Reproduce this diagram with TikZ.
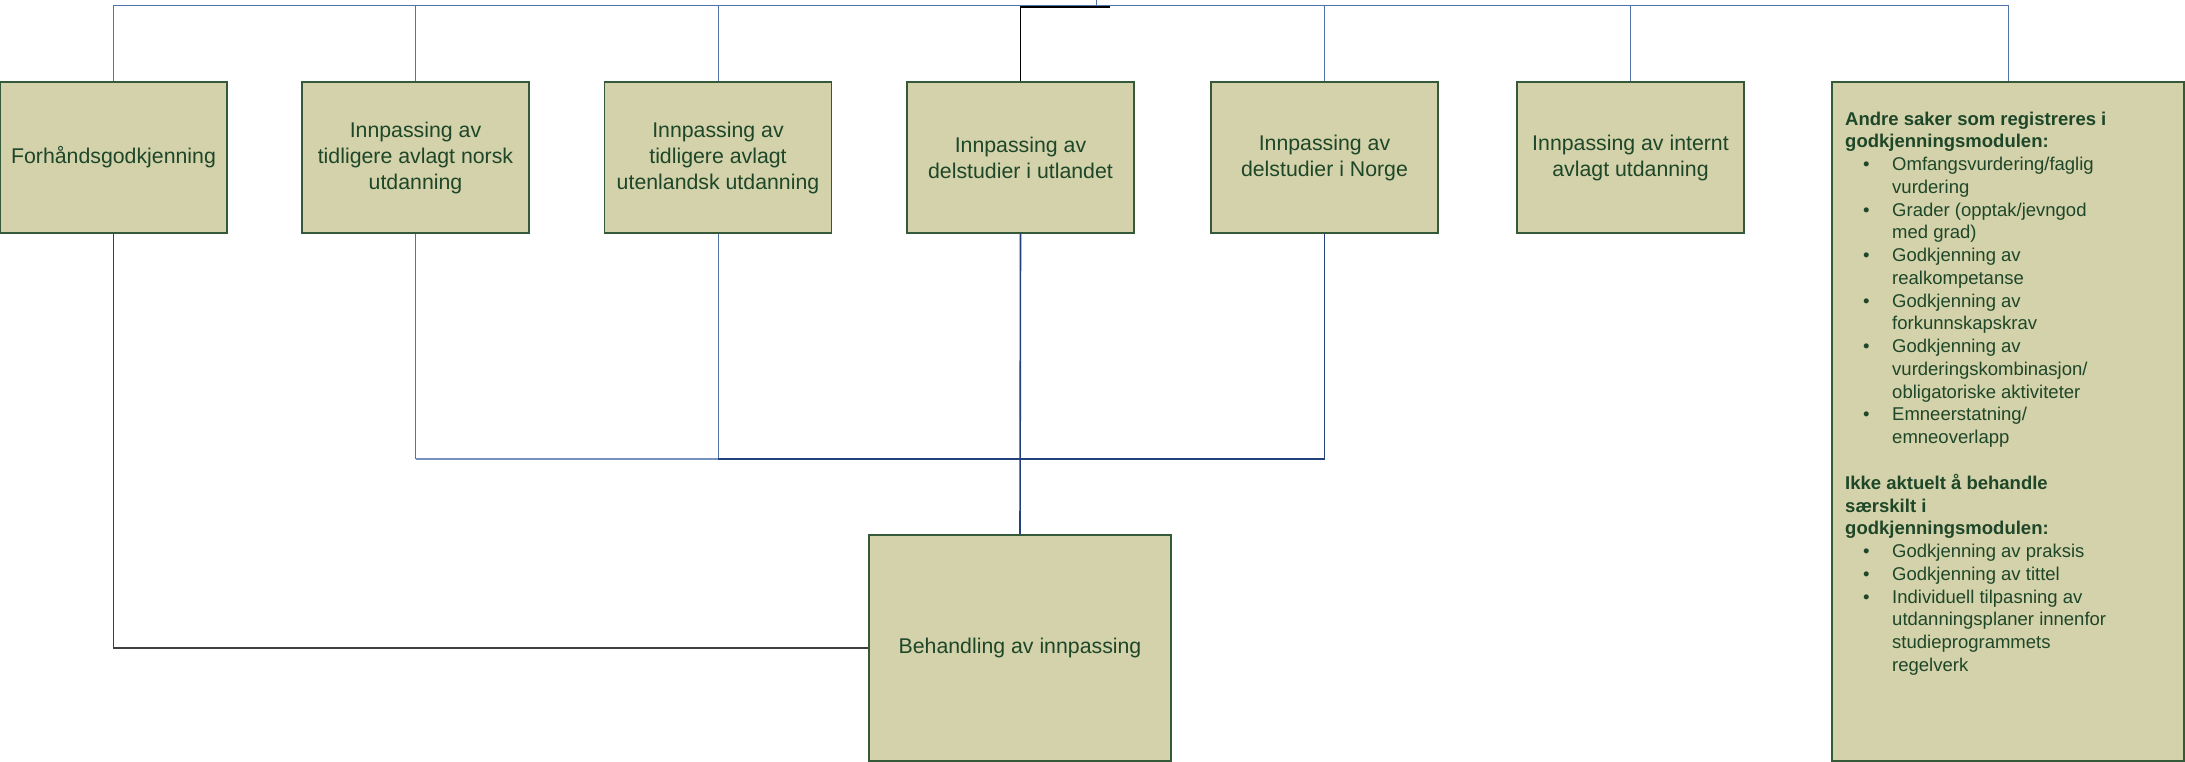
\documentclass[tikz,border=0pt]{standalone}
\usepackage{fontspec}
\setmainfont{Liberation Sans}
\definecolor{boxfill}{RGB}{211,210,170}
\definecolor{boxline}{RGB}{52,90,58}
\definecolor{txt}{RGB}{30,70,40}
\definecolor{blueline}{RGB}{80,115,170}
\definecolor{darkblue}{RGB}{35,65,125}
\definecolor{lightblue}{RGB}{120,145,190}
\newcommand\bul{\hspace*{18pt}\makebox[29pt][l]{\textbullet}}
\newcommand\ind{\hspace*{47pt}}
\begin{document}
\begin{tikzpicture}[x=1pt,y=-1pt,
  box/.style={draw=boxline, fill=boxfill, line width=1.5pt, inner sep=2pt,
    align=center, text=txt, font=\fontsize{21.3}{26}\selectfont,
    minimum width=227pt, minimum height=151pt},
  conn/.style={draw=blueline, line width=1pt},
  darkconn/.style={draw=darkblue, line width=1.6pt},
  lightconn/.style={draw=lightblue, line width=2pt},
  blackconn/.style={draw=black, line width=1.3pt},
  grayconn/.style={draw=black!75, line width=1.3pt}]
\useasboundingbox (0,0) rectangle (2185,762);
\coordinate (bus) at (0,6);
\coordinate (bus2) at (0,459);
\coordinate (stub) at (1096,0);
\coordinate (blk) at (1110,7);
% boxes
\node[box] (b1) at (113.5,157.5) {Forhåndsgodkjenning};
\node[box] (b2) at (415.5,157.5) {Innpassing av\\tidligere avlagt norsk\\utdanning};
\node[box] (b3) at (718,157.5) {Innpassing av\\tidligere avlagt\\utenlandsk utdanning};
\node[box] (b4) at (1020.5,157.5) {Innpassing av\\delstudier i utlandet};
\node[box] (b5) at (1324.5,157.5) {Innpassing av\\delstudier i Norge};
\node[box] (b6) at (1630.5,157.5) {Innpassing av internt\\avlagt utdanning};
\node[box, minimum width=352pt, minimum height=679pt] (b7) at (2008,421.5) {};
\node[box, minimum width=302pt, minimum height=226pt] (bot) at (1020,648) {Behandling av innpassing};
\node[anchor=north west, align=left, inner sep=0pt, text=txt,
  font=\fontsize{18.5}{22.76}\selectfont] (notes) at (1845,111.5) {%
\textbf{Andre saker som registreres i}\\
\textbf{godkjenningsmodulen:}\\
\bul Omfangsvurdering/faglig\\
\ind vurdering\\
\bul Grader (opptak/jevngod\\
\ind med grad)\\
\bul Godkjenning av\\
\ind realkompetanse\\
\bul Godkjenning av\\
\ind forkunnskapskrav\\
\bul Godkjenning av\\
\ind vurderingskombinasjon/\\
\ind obligatoriske aktiviteter\\
\bul Emneerstatning/\\
\ind emneoverlapp\\[22.76pt]
\textbf{Ikke aktuelt å behandle}\\
\textbf{særskilt i}\\
\textbf{godkjenningsmodulen:}\\
\bul Godkjenning av praksis\\
\bul Godkjenning av tittel\\
\bul Individuell tilpasning av\\
\ind utdanningsplaner innenfor\\
\ind studieprogrammets\\
\ind regelverk};
% top connectors
\draw[blackconn] (b4.north |- blk) -- (blk);
\draw[blackconn] (b4.north) -- (b4.north |- bus);
\draw[conn] (b1.north) -- (b1.north |- bus) -- (b7.north |- bus) -- (b7.north);
\draw[conn] (b2.north) -- (b2.north |- bus);
\draw[conn] (b3.north) -- (b3.north |- bus);
\draw[conn] (b5.north) -- (b5.north |- bus);
\draw[conn] (b6.north) -- (b6.north |- bus);
\draw[conn] (stub) -- (stub |- bus);
% lower connectors
\draw[conn] (b2.south) -- (b2.south |- bus2);
\draw[conn] (b3.south) -- (b3.south |- bus2);
\draw[lightconn] (b2.south |- bus2) -- (b3.south |- bus2);
\draw[darkconn] (b3.south |- bus2) -- (b5.south |- bus2);
\draw[darkconn] (b5.south) -- (b5.south |- bus2);
\draw[darkconn] (b4.south) -- (bot.north);
\draw[grayconn] (b1.south) |- (bot.west);
\end{tikzpicture}
\end{document}
